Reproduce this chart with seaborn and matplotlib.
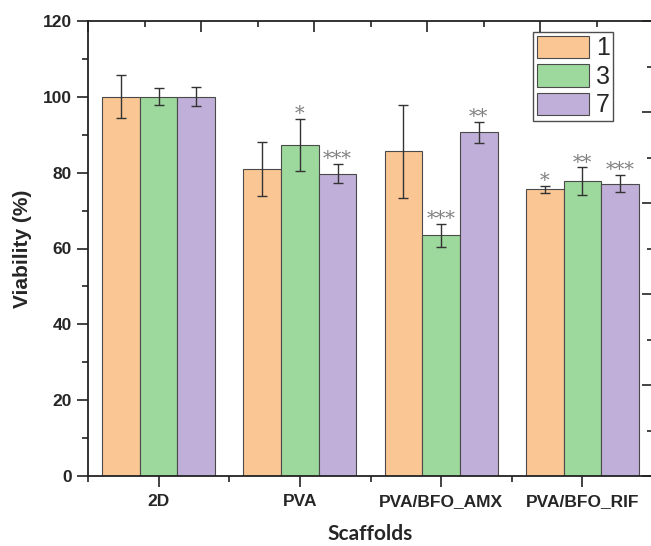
import numpy as np
import pandas as pd
import matplotlib
matplotlib.use("Agg")
import matplotlib.pyplot as plt
from matplotlib.patches import Patch
from matplotlib.ticker import MultipleLocator
import seaborn as sns

# datos
scaffolds = ["2D", "PVA", "PVA/BFO_AMX", "PVA/BFO_RIF"]
days = ["1", "3", "7"]
viab_d1 = [100.0, 81.0, 85.6, 75.6]
viab_d3 = [100.0, 87.3, 63.5, 77.7]
viab_d7 = [100.0, 79.7, 90.6, 77.1]
err_d1 = [5.7, 7.1, 12.2, 0.9]
err_d3 = [2.2, 6.8, 3.0, 3.7]
err_d7 = [2.5, 2.5, 2.8, 2.2]
stars_d1 = ["", "", "", "*"]
stars_d3 = ["", "*", "***", "**"]
stars_d7 = ["", "***", "**", "***"]

colors = ["#F9C694", "#9DD89C", "#C0AFD8"]

rows = []
for day, vals, errs, st in zip(days, [viab_d1, viab_d3, viab_d7],
                               [err_d1, err_d3, err_d7],
                               [stars_d1, stars_d3, stars_d7]):
    for s, v, e, t in zip(scaffolds, vals, errs, st):
        rows.append({"Scaffold": s, "Day": day, "Viability": v, "Err": e, "Stars": t})
df = pd.DataFrame(rows)

sns.set_style("white")
plt.rcParams['font.family'] = ['Liberation Sans', 'DejaVu Sans']

fig = plt.figure(figsize=(6.51, 5.46), dpi=100)
ax = fig.add_axes([88/651, 70/546, 565/651, 455/546])

sns.barplot(data=df, x="Scaffold", y="Viability", hue="Day", order=scaffolds,
            hue_order=days, palette=colors, errorbar=None, width=0.8,
            edgecolor="#4a4a4a", linewidth=0.8, saturation=1, ax=ax)

# barras de error y asteriscos
for cont, day in zip(ax.containers, days):
    sub = df[df["Day"] == day].set_index("Scaffold").loc[scaffolds]
    for patch, (_, r) in zip(cont.patches, sub.iterrows()):
        xc = patch.get_x() + patch.get_width() / 2
        ax.errorbar(xc, r["Viability"], yerr=r["Err"], fmt="none",
                    ecolor="#333333", elinewidth=1, capsize=3.5, capthick=1)
        if r["Stars"]:
            ax.annotate(r["Stars"], (xc, r["Viability"] + r["Err"]),
                        xytext=(0, -3), textcoords="offset points",
                        ha="center", va="bottom", fontsize=14,
                        color="#808080", family="DejaVu Serif")

ax.set_xlim(-0.5, 3.5)
ax.set_ylim(0, 120)
ax.yaxis.set_major_locator(MultipleLocator(20))
ax.yaxis.set_minor_locator(MultipleLocator(10))
ax.set_xticks(np.arange(len(scaffolds)))
ax.set_xticks(np.arange(-0.5, 3.6, 1), minor=True)
ax.tick_params(axis="both", which="major", direction="out", length=8,
               width=1.2, labelsize=12.5, color="#222222")
ax.tick_params(axis="both", which="minor", direction="out", length=4,
               width=1.2, color="#222222")
ax.tick_params(axis="x", pad=5)
for lbl in ax.get_xticklabels() + ax.get_yticklabels():
    lbl.set_fontweight("bold")

for sp in ax.spines.values():
    sp.set_color("#222222")
    sp.set_linewidth(1.3)

ax.set_ylabel("Viability (%)", fontsize=15, fontweight="bold", labelpad=8)
ax.set_xlabel("Scaffolds", fontsize=15, fontweight="bold", family="Lato",
              labelpad=11)

# ejes gemelos solo con marcas (como en Origin)
axt = ax.twiny()
axt.set_xlim(0, 10)
axt.xaxis.set_major_locator(MultipleLocator(2))
axt.xaxis.set_minor_locator(MultipleLocator(1))
axt.tick_params(axis="x", which="major", direction="in", length=8, width=1.2,
                labeltop=False, color="#222222")
axt.tick_params(axis="x", which="minor", direction="in", length=4, width=1.2,
                color="#222222")
axr = ax.twinx()
axr.set_ylim(0, 10)
axr.yaxis.set_major_locator(MultipleLocator(2))
axr.yaxis.set_minor_locator(MultipleLocator(1))
axr.tick_params(axis="y", which="major", direction="in", length=8, width=1.2,
                labelright=False, color="#222222")
axr.tick_params(axis="y", which="minor", direction="in", length=4, width=1.2,
                color="#222222")
for a in (axt, axr):
    a.spines[:].set_visible(False)

# leyenda
ax.get_legend().remove()
handles = [Patch(facecolor=c, edgecolor="#4a4a4a", linewidth=0.8) for c in colors]
leg = ax.legend(handles, days, loc="upper right", bbox_to_anchor=(0.93, 0.976),
                fontsize=18, frameon=True, fancybox=False, edgecolor="#222222",
                handlelength=2.1, handleheight=1.0, labelspacing=0.15,
                handletextpad=0.25, borderpad=0.15, borderaxespad=0)
leg.get_frame().set_linewidth(1.0)

fig.savefig("out.png", dpi=100)
